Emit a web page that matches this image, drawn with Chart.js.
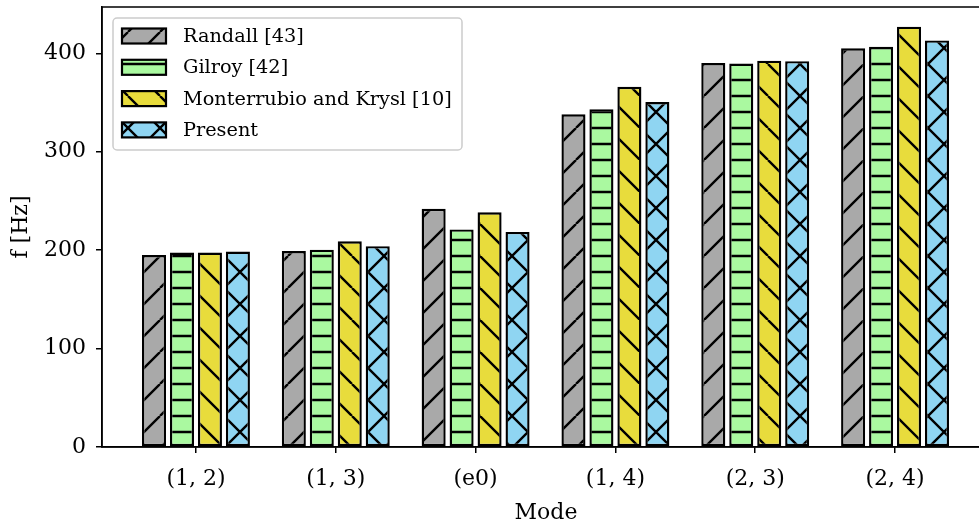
<!DOCTYPE html>
<html>
<head>
<meta charset="utf-8">
<script src="https://cdn.jsdelivr.net/npm/chart.js@4.4.1/dist/chart.umd.min.js"></script>
<style>
  html, body { margin: 0; padding: 0; background: #fff; }
  #wrap { width: 979px; height: 528px; overflow: hidden; }
</style>
</head>
<body>
<div id="wrap"><canvas id="modeChart" width="1000" height="528"></canvas></div>
<script>
/* Mode frequencies, f [Hz] */
const modes = ['(1, 2)', '(1, 3)', '(e0)', '(1, 4)', '(2, 3)', '(2, 4)'];
const randall = [195, 199, 242, 338, 390, 405];
const gilroy = [197.5, 200.5, 221, 343, 389.5, 406.5];
const monterrubio = [197.5, 209, 238.5, 366, 392.5, 427];
const present = [198.5, 204, 218.5, 350.5, 392, 413];
const yTicks = [0, 100, 200, 300, 400];

const serif = "'DejaVu Serif', serif";

// hatch fill like matplotlib ('/', '-', '\\', 'x')
function hatch(bg, kind) {
    const s = 32;
    const c = document.createElement('canvas');
    c.width = s; c.height = s;
    const g = c.getContext('2d');
    g.fillStyle = bg;
    g.fillRect(0, 0, s, s);
    g.strokeStyle = '#000';
    g.lineWidth = 2.4;
    g.beginPath();
    for (const k of [-s, 0, s]) {
        if (kind === '/' || kind === 'x') { g.moveTo(k, s); g.lineTo(k + s, 0); }
        if (kind === '\\' || kind === 'x') { g.moveTo(k, 0); g.lineTo(k + s, s); }
    }
    if (kind === '-') {
        for (const y of [0, s / 2, s]) { g.moveTo(0, y); g.lineTo(s, y); }
    }
    g.stroke();
    return g.createPattern(c, 'repeat');
}

function series(values) {
    return values.map((v, i) => ({ x: i, y: v }));
}

const frame = {
    id: 'frame',
    afterDraw(chart) {
        const { ctx, chartArea: a } = chart;
        ctx.save();
        ctx.strokeStyle = '#000';
        ctx.lineWidth = 1.5;
        ctx.strokeRect(a.left, a.top, a.right - a.left, a.bottom - a.top);
        ctx.restore();
    }
};

const boxLegend = {
    id: 'boxLegend',
    afterDraw(chart) {
        const { ctx, chartArea: a } = chart;
        const x0 = a.left + 11, y0 = a.top + 11, w = 349, h = 132;
        ctx.save();
        ctx.beginPath();
        ctx.roundRect(x0, y0, w, h, 4);
        ctx.fillStyle = 'rgba(255,255,255,0.8)';
        ctx.fill();
        ctx.strokeStyle = '#cccccc';
        ctx.lineWidth = 1.5;
        ctx.stroke();
        ctx.font = '19.3px ' + serif;
        ctx.textBaseline = 'middle';
        chart.data.datasets.forEach((ds, i) => {
            const cy = y0 + 18 + i * 31.3;
            ctx.fillStyle = ds.backgroundColor;
            ctx.fillRect(x0 + 9, cy - 7.5, 44, 15);
            ctx.strokeStyle = '#000';
            ctx.lineWidth = 2.2;
            ctx.strokeRect(x0 + 9, cy - 7.5, 44, 15);
            ctx.fillStyle = '#000';
            ctx.fillText(ds.label, x0 + 70, cy + 1);
        });
        ctx.restore();
    }
};

function barSet(label, data, color, kind) {
    return {
        label: label,
        data: series(data),
        backgroundColor: hatch(color, kind),
        borderColor: '#000',
        borderWidth: 2.4,
        borderSkipped: false,
        barPercentage: 0.86,
        categoryPercentage: 0.8
    };
}

const axisGrid = { display: true, drawOnChartArea: false, drawTicks: true, tickLength: 6, color: '#000', lineWidth: 1.5, offset: false };

new Chart(document.getElementById('modeChart'), {
    type: 'bar',
    data: {
        datasets: [
            barSet('Randall [43]', randall, '#a9a9a9', '/'),
            barSet('Gilroy [42]', gilroy, '#aaf9a0', '-'),
            barSet('Monterrubio and Krysl [10]', monterrubio, '#e8dc3c', '\\'),
            barSet('Present', present, '#8fd5f2', 'x')
        ]
    },
    options: {
        responsive: false,
        animation: false,
        devicePixelRatio: 1,
        layout: { padding: { top: 7, right: 10, left: 0, bottom: 0 } },
        plugins: {
            legend: { display: false },
            tooltip: { enabled: false }
        },
        scales: {
            x: {
                type: 'linear',
                offset: false,
                min: -0.672,
                max: 5.679,
                afterBuildTicks: s => { s.ticks = modes.map((m, i) => ({ value: i })); },
                afterFit: s => { s.height = 81; s.paddingLeft = 0; s.paddingRight = 0; },
                ticks: {
                    callback: v => modes[v],
                    color: '#000',
                    font: { family: serif, size: 22 },
                    padding: 13,
                    maxRotation: 0,
                    autoSkip: false
                },
                grid: axisGrid,
                border: { display: true, color: '#000', width: 1.5 },
                title: {
                    display: true,
                    text: 'Mode',
                    color: '#000',
                    font: { family: serif, size: 22 },
                    padding: { top: 0, bottom: 2 }
                }
            },
            y: {
                min: 0,
                max: 447,
                afterBuildTicks: s => { s.ticks = yTicks.map(v => ({ value: v })); },
                afterFit: s => { s.width = 102; s.paddingTop = 0; s.paddingBottom = 0; },
                ticks: {
                    color: '#000',
                    font: { family: serif, size: 22 },
                    padding: 10
                },
                grid: axisGrid,
                border: { display: true, color: '#000', width: 1.5 },
                title: {
                    display: true,
                    text: 'f [Hz]',
                    color: '#000',
                    font: { family: serif, size: 22 },
                    padding: { top: 8, bottom: 0 }
                }
            }
        }
    },
    plugins: [frame, boxLegend]
});
</script>
</body>
</html>
